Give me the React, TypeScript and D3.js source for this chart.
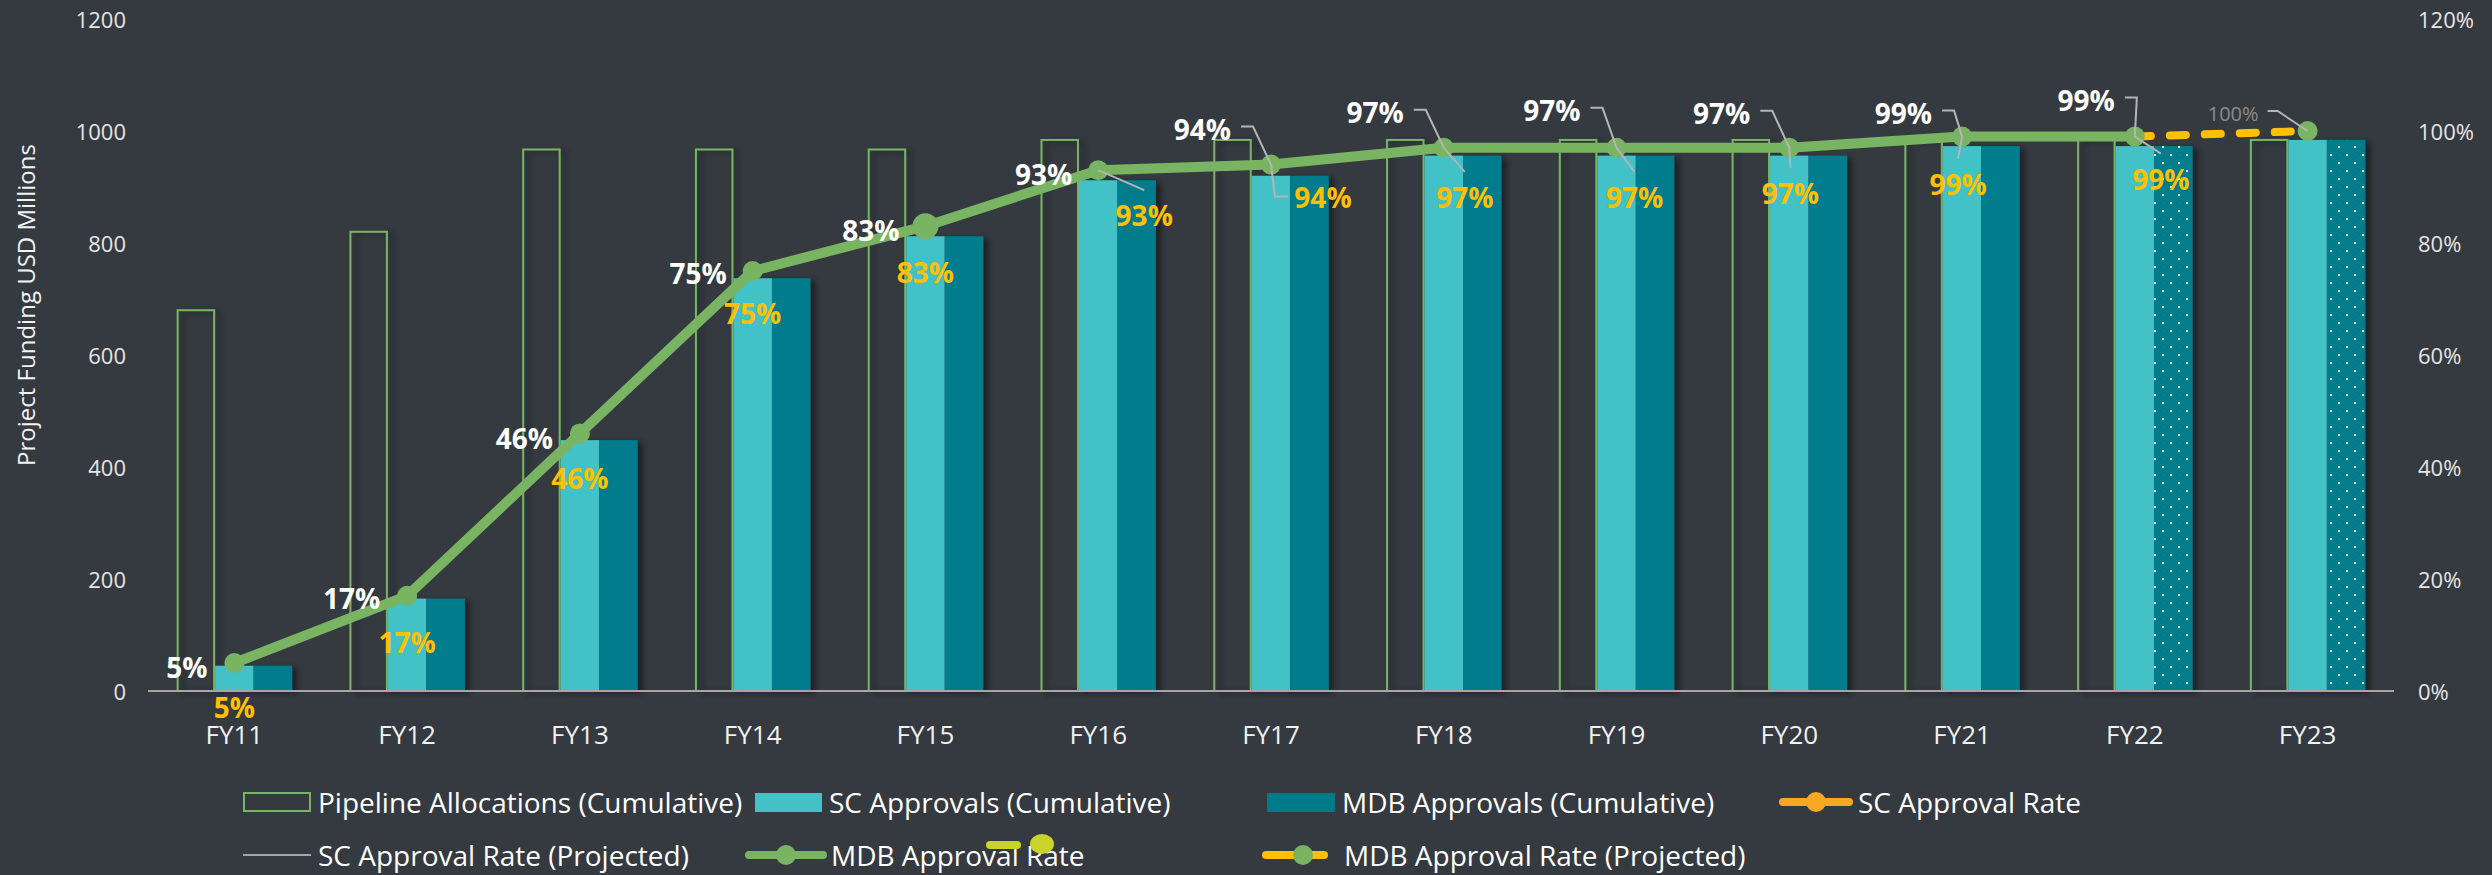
import React from 'react';
import * as d3 from 'd3';

// fiscal years on the category axis
const years = ['FY11', 'FY12', 'FY13', 'FY14', 'FY15', 'FY16', 'FY17', 'FY18', 'FY19', 'FY20', 'FY21', 'FY22', 'FY23'];

// cumulative funding, USD millions (left axis)
const pipelineCumulative = [680, 820, 967, 967, 967, 984, 984, 984, 984, 984, 984, 984, 984];
const scApprovalsCumulative = [45, 165, 448, 737, 812, 912, 920, 956, 956, 956, 973, 973, 984];
const mdbApprovalsCumulative = [45, 165, 448, 737, 812, 912, 920, 956, 956, 956, 973, 973, 984];
const mdbProjectedYears = ['FY22', 'FY23'];

// approval rates, % (right axis)
const scApprovalRate = [5, 17, 46, 75, 83, 93, 94, 97, 97, 97, 99, 99, null];
const mdbApprovalRate = [5, 17, 46, 75, 83, 93, 94, 97, 97, 97, 99, 99, null];
const mdbApprovalRateProjected = [null, null, null, null, null, null, null, null, null, null, null, 99, 100];

const leftTicks = [0, 200, 400, 600, 800, 1000, 1200];
const rightTicks = [0, 20, 40, 60, 80, 100, 120];

// label placement (layout only): [dx, dy] from the rate point
const whiteLabelShift = [[-27, 4], [-27, 2], [-27, 5], [-26, 2], [-26, 4], [-26, 4], [-40, -36], [-40, -36], [-36, -38], [-39, -35], [-30, -24], [-20, -37]];
const yellowLabelShift = [[0, 44], [0, 46], [0, 45], [0, 42], [0, 46], [46, 45], [52, 32], [21, 49], [18, 49], [1, 45], [-4, 47], [26, 42]];

const W = 2492;
const H = 875;
const FONT = '"Open Sans", "DejaVu Sans", sans-serif';
const BG = '#343a40';
const CYAN = '#43c1c6';
const TEAL = '#007b8c';
const GREEN = '#79b463';
const YELLOW = '#ffc000';
const ORANGE = '#f7a823';
const LEADER = '#b4b4b4';

const App: React.FC = () => {
  const x = d3.scaleBand<string>().domain(years).range([148, 2394]).padding(0);
  const sub = d3
    .scaleBand<string>()
    .domain(['pipeline', 'sc', 'mdb'])
    .range([0, x.bandwidth()])
    .paddingInner(0)
    .paddingOuter(0.744);
  const yLeft = d3.scaleLinear().domain([0, 1200]).range([691, 19]);
  const yRight = d3.scaleLinear().domain([0, 120]).range([691, 19]);
  const cx = (yr: string) => (x(yr) as number) + x.bandwidth() / 2;

  const rateLine = d3
    .line<number | null>()
    .defined((d) => d !== null)
    .x((_, i) => cx(years[i]))
    .y((d) => yRight(d as number));

  const legendCol = (i: number) => 243 + i * 512;
  const row1 = 802;
  const row2 = 855;

  return (
    <svg width={W} height={H} style={{ position: 'absolute', left: 0, top: 0, display: 'block' }} fontFamily={FONT}>
      <defs>
        <filter id="shadow" x="-20%" y="-5%" width="160%" height="110%">
          <feDropShadow dx="5" dy="2" stdDeviation="3" floodColor="#000" floodOpacity="0.45" />
        </filter>
        <pattern id="dots" width="16" height="16" patternUnits="userSpaceOnUse">
          <rect width="16" height="16" fill={TEAL} />
          <rect x="2" y="2" width="2" height="2" fill="#fff" />
          <rect x="10" y="10" width="2" height="2" fill="#fff" />
        </pattern>
      </defs>
      <rect width={W} height={H} fill={BG} />

      {/* bars */}
      <g filter="url(#shadow)">
        {years.map((yr, i) => (
          <g key={yr}>
            <rect
              x={(x(yr) as number) + (sub('pipeline') as number) + 1}
              y={yLeft(pipelineCumulative[i])}
              width={sub.bandwidth() - 2}
              height={yLeft(0) - yLeft(pipelineCumulative[i])}
              fill="none"
              stroke={GREEN}
              strokeWidth={2}
            />
            <rect
              x={(x(yr) as number) + (sub('sc') as number)}
              y={yLeft(scApprovalsCumulative[i])}
              width={sub.bandwidth()}
              height={yLeft(0) - yLeft(scApprovalsCumulative[i])}
              fill={CYAN}
            />
            <rect
              x={(x(yr) as number) + (sub('mdb') as number)}
              y={yLeft(mdbApprovalsCumulative[i])}
              width={sub.bandwidth()}
              height={yLeft(0) - yLeft(mdbApprovalsCumulative[i])}
              fill={mdbProjectedYears.includes(yr) ? 'url(#dots)' : TEAL}
            />
          </g>
        ))}
      </g>

      {/* baseline */}
      <line x1={148} x2={2394} y1={yLeft(0)} y2={yLeft(0)} stroke="#a6a6a6" strokeWidth={2} />

      {/* left axis */}
      {leftTicks.map((t) => (
        <text key={t} x={126} y={yLeft(t)} textAnchor="end" dominantBaseline="central" fontSize={22} fill="#e6e6e6">
          {t}
        </text>
      ))}
      <text
        transform="translate(25,305) rotate(-90)"
        textAnchor="middle"
        dominantBaseline="central"
        fontSize={24}
        fill="#f2f2f2"
      >
        Project Funding USD Millions
      </text>

      {/* right axis */}
      {rightTicks.map((t) => (
        <text key={t} x={2418} y={yRight(t)} textAnchor="start" dominantBaseline="central" fontSize={22} fill="#e6e6e6">
          {t}%
        </text>
      ))}

      {/* category labels */}
      {years.map((yr) => (
        <text key={yr} x={cx(yr)} y={734} textAnchor="middle" dominantBaseline="central" fontSize={26} fill="#f2f2f2">
          {yr}
        </text>
      ))}

      {/* rate lines */}
      <path d={rateLine(scApprovalRate) as string} fill="none" stroke={ORANGE} strokeWidth={8} />
      <path d={rateLine(mdbApprovalRate) as string} fill="none" stroke={GREEN} strokeWidth={10} strokeLinejoin="round" />
      <path
        d={rateLine(mdbApprovalRateProjected) as string}
        fill="none"
        stroke={YELLOW}
        strokeWidth={8}
        strokeLinecap="round"
        strokeDasharray="16 19"
      />
      {mdbApprovalRate.map((v, i) =>
        v === null ? null : (
          <circle key={i} cx={cx(years[i])} cy={yRight(v)} r={years[i] === 'FY15' ? 13 : 10} fill={GREEN} />
        )
      )}
      {mdbApprovalRateProjected.map((v, i) =>
        v === null || mdbApprovalRate[i] !== null ? null : (
          <circle key={i} cx={cx(years[i])} cy={yRight(v)} r={10} fill={GREEN} />
        )
      )}

      {/* leader lines */}
      {mdbApprovalRate.map((v, i) => {
        if (v === null) return null;
        const px = cx(years[i]);
        const py = yRight(v);
        const [wdx, wdy] = whiteLabelShift[i];
        const [ydx, ydy] = yellowLabelShift[i];
        const yx = px + ydx;
        const yy = py + ydy;
        const paths: string[] = [];
        if (wdy < -20) {
          const wr = px + wdx;
          const wy = py + wdy;
          let d = `M${wr + 10},${wy - 2}H${wr + 22}L${px},${py}`;
          if (ydy < 40) d += `L${yx - 48},${yy}H${yx - 35}`;
          else d += `L${yx},${yy - 25}`;
          paths.push(d);
        } else if (Math.abs(ydx) > 15) {
          paths.push(`M${px},${py}L${yx},${yy - 25}`);
        }
        return paths.map((d, k) => <path key={`${i}-${k}`} d={d} fill="none" stroke={LEADER} strokeWidth={2} />);
      })}
      {mdbApprovalRateProjected.map((v, i) => {
        if (v === null || mdbApprovalRate[i] !== null) return null;
        const px = cx(years[i]);
        const py = yRight(v);
        const wr = px - 49;
        const wy = py - 18;
        return (
          <g key={i}>
            <path d={`M${wr + 9},${wy - 2}H${wr + 19}L${px},${py}`} fill="none" stroke={LEADER} strokeWidth={2} />
            <text x={wr} y={wy} textAnchor="end" dominantBaseline="central" fontSize={20} fill="#8c8c8c">
              {v}%
            </text>
          </g>
        );
      })}

      {/* rate labels */}
      {mdbApprovalRate.map((v, i) =>
        v === null ? null : (
          <text
            key={`w${i}`}
            x={cx(years[i]) + whiteLabelShift[i][0]}
            y={yRight(v) + whiteLabelShift[i][1]}
            textAnchor="end"
            dominantBaseline="central"
            fontSize={28}
            fontWeight={700}
            fill="#ffffff"
          >
            {v}%
          </text>
        )
      )}
      {scApprovalRate.map((v, i) =>
        v === null ? null : (
          <text
            key={`y${i}`}
            x={cx(years[i]) + yellowLabelShift[i][0]}
            y={yRight(v) + yellowLabelShift[i][1]}
            textAnchor="middle"
            dominantBaseline="central"
            fontSize={28}
            fontWeight={700}
            fill={YELLOW}
          >
            {v}%
          </text>
        )
      )}

      {/* legend */}
      <g fontSize={28} fill="#ffffff">
        <rect x={legendCol(0) + 1} y={row1 - 9} width={66} height={18} fill="none" stroke={GREEN} strokeWidth={2} />
        <text x={legendCol(0) + 75} y={row1} dominantBaseline="central">Pipeline Allocations (Cumulative)</text>

        <rect x={legendCol(1)} y={row1 - 9} width={67} height={19} fill={CYAN} />
        <text x={legendCol(1) + 74} y={row1} dominantBaseline="central">SC Approvals (Cumulative)</text>

        <rect x={legendCol(2)} y={row1 - 9} width={68} height={19} fill={TEAL} />
        <text x={legendCol(2) + 75} y={row1} dominantBaseline="central">MDB Approvals (Cumulative)</text>

        <line x1={legendCol(3) + 4} x2={legendCol(3) + 70} y1={row1} y2={row1} stroke={ORANGE} strokeWidth={8} strokeLinecap="round" />
        <circle cx={legendCol(3) + 37} cy={row1} r={10} fill={ORANGE} />
        <text x={legendCol(3) + 79} y={row1} dominantBaseline="central">SC Approval Rate</text>

        <line x1={legendCol(0)} x2={legendCol(0) + 68} y1={row2} y2={row2} stroke="#a6a6a6" strokeWidth={2} />
        <text x={legendCol(0) + 75} y={row2} dominantBaseline="central">SC Approval Rate (Projected)</text>

        <line x1={legendCol(1) - 6} x2={legendCol(1) + 68} y1={row2} y2={row2} stroke={GREEN} strokeWidth={8} strokeLinecap="round" />
        <circle cx={legendCol(1) + 31} cy={row2} r={10} fill={GREEN} />
        <text x={legendCol(1) + 76} y={row2} dominantBaseline="central">MDB Approval Rate</text>
        <line x1={legendCol(1) + 235} x2={legendCol(1) + 262} y1={row2 - 10} y2={row2 - 10} stroke="#c8d42c" strokeWidth={8} strokeLinecap="round" />
        <ellipse cx={legendCol(1) + 287} cy={row2 - 11} rx={12} ry={10} fill="#c8d42c" />

        <line x1={legendCol(2) - 1} x2={legendCol(2) + 57} y1={row2} y2={row2} stroke={YELLOW} strokeWidth={8} strokeLinecap="round" />
        <circle cx={legendCol(2) + 36} cy={row2} r={10} fill={GREEN} />
        <text x={legendCol(2) + 77} y={row2} dominantBaseline="central">MDB Approval Rate (Projected)</text>
      </g>
    </svg>
  );
};

export default App;
